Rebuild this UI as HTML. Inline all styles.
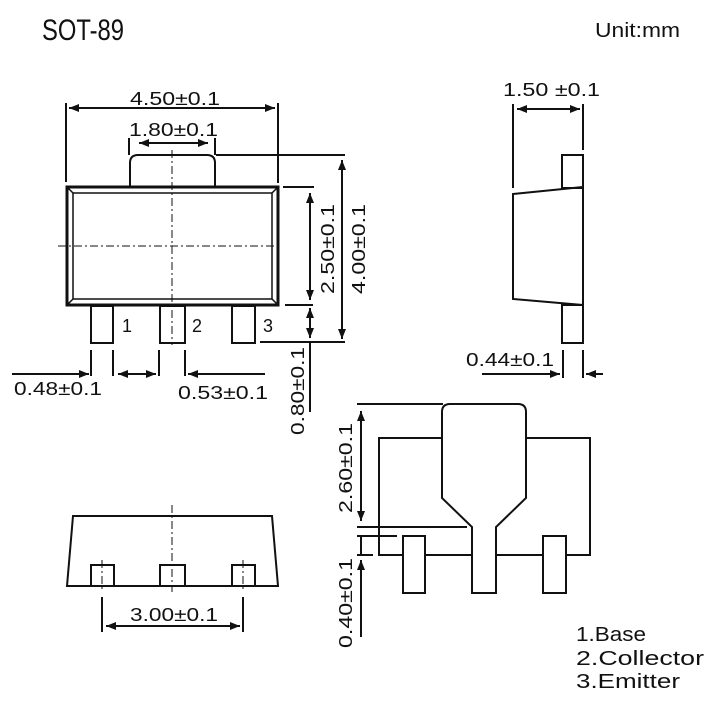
<!DOCTYPE html>
<html><head><meta charset="utf-8"><style>
html,body{margin:0;padding:0;background:#fff;width:712px;height:704px;overflow:hidden}
svg{display:block}
text{font-family:"Liberation Sans","DejaVu Sans",sans-serif;fill:#111}
</style></head><body>
<svg width="712" height="704" viewBox="0 0 712 704" xmlns="http://www.w3.org/2000/svg">
<defs>
<marker id="a" viewBox="0 0 10 8" refX="10" refY="4" markerWidth="10" markerHeight="8" markerUnits="userSpaceOnUse" orient="auto-start-reverse"><path d="M0,0L10,4L0,8z" fill="#111"/></marker>
</defs>
<g stroke="#111" fill="none" stroke-width="2">
<rect x="67" y="187" width="211" height="118" stroke-width="3"/>
<rect x="73" y="193" width="199" height="106" stroke-width="1.5"/>
<path d="M67,187L73,193M278,187L272,193M67,305L73,299M278,305L272,299" stroke-width="1.5"/>
<path d="M130,187V163Q130,155 138,155H207Q215,155 215,163V187"/>
<rect x="91" y="306" width="22" height="37"/>
<rect x="160" y="306" width="25" height="37"/>
<rect x="232" y="306" width="23" height="37"/>
<path d="M172,150V345M58,246H282" stroke-width="1" stroke-dasharray="8,3,2,3"/>
<path d="M66,103V182M278,103V183"/>
<path d="M69,108H275" marker-start="url(#a)" marker-end="url(#a)"/>
<path d="M129,138V155M215,138V155"/>
<path d="M139,143H208" marker-start="url(#a)" marker-end="url(#a)"/>
<path d="M216,155H345M283,187H314M285,305H313M260,342H345M310,342V412"/>
<path d="M342,160V339" marker-start="url(#a)" marker-end="url(#a)"/>
<path d="M310,193V300" marker-start="url(#a)" marker-end="url(#a)"/>
<path d="M310,308V338" marker-start="url(#a)" marker-end="url(#a)"/>
<path d="M91,350V376M113,350V376M159,350V376M185,350V376"/>
<path d="M12,374H89" marker-end="url(#a)"/>
<path d="M118,374H156" marker-start="url(#a)" marker-end="url(#a)"/>
<path d="M265,374H188" marker-end="url(#a)"/>
<rect x="562" y="155" width="21" height="33"/>
<path d="M513,194L583,187V305L513,299Z"/>
<rect x="562" y="305" width="21" height="38"/>
<path d="M513,104V188M583,104V150"/>
<path d="M517,109H580" marker-start="url(#a)" marker-end="url(#a)"/>
<path d="M563,350V378M583,350V378"/>
<path d="M482,374H560" marker-end="url(#a)"/>
<path d="M603,374H586" marker-end="url(#a)"/>
<path d="M73,516H272L278,586H67Z"/>
<path d="M91,586V565H114V586M160,586V565H185V586M232,586V565H255V586"/>
<path d="M172,505V592M102,560V590M243,560V590" stroke-width="1" stroke-dasharray="8,3,2,3"/>
<path d="M102,597V632M243,597V632"/>
<path d="M106,626H240" marker-start="url(#a)" marker-end="url(#a)"/>
<path d="M442,438H379V555H403M425,555H472M496,555H543M566,555H590V438H526"/>
<path d="M442,498V412Q442,404 450,404H518Q526,404 526,412V498L496,527V593H472V527Z"/>
<rect x="403" y="536" width="22" height="57"/>
<rect x="543" y="536" width="23" height="57"/>
<path d="M357,404H443M357,527H467M357,536H397M357,555H373M361,536V555"/>
<path d="M361,411V521" marker-start="url(#a)" marker-end="url(#a)"/>
<path d="M361,637V560" marker-end="url(#a)"/>
</g>
<text x="42" y="40" font-size="30" textLength="82" lengthAdjust="spacingAndGlyphs">SOT-89</text>
<text x="595" y="37" font-size="20" textLength="85" lengthAdjust="spacingAndGlyphs">Unit:mm</text>
<g font-size="18">
<text x="130" y="105" textLength="90" lengthAdjust="spacingAndGlyphs">4.50±0.1</text>
<text x="129" y="136" textLength="89" lengthAdjust="spacingAndGlyphs">1.80±0.1</text>
<text x="122" y="332">1</text>
<text x="192" y="332">2</text>
<text x="263" y="332">3</text>
<text x="14" y="395" textLength="88" lengthAdjust="spacingAndGlyphs">0.48±0.1</text>
<text x="178" y="399" textLength="90" lengthAdjust="spacingAndGlyphs">0.53±0.1</text>
<text x="503" y="96" textLength="97" lengthAdjust="spacingAndGlyphs">1.50 ±0.1</text>
<text x="466" y="366" textLength="88" lengthAdjust="spacingAndGlyphs">0.44±0.1</text>
<text x="130" y="621" textLength="88" lengthAdjust="spacingAndGlyphs">3.00±0.1</text>
<text transform="translate(334,249) rotate(-90)" text-anchor="middle" textLength="90" lengthAdjust="spacingAndGlyphs">2.50±0.1</text>
<text transform="translate(365,249) rotate(-90)" text-anchor="middle" textLength="90" lengthAdjust="spacingAndGlyphs">4.00±0.1</text>
<text transform="translate(304,391) rotate(-90)" text-anchor="middle" textLength="88" lengthAdjust="spacingAndGlyphs">0.80±0.1</text>
<text transform="translate(352,468) rotate(-90)" text-anchor="middle" textLength="90" lengthAdjust="spacingAndGlyphs">2.60±0.1</text>
<text transform="translate(352,603) rotate(-90)" text-anchor="middle" textLength="90" lengthAdjust="spacingAndGlyphs">0.40±0.1</text>
</g>
<g font-size="20">
<text x="576" y="641" textLength="70" lengthAdjust="spacingAndGlyphs">1.Base</text>
<text x="576" y="665" textLength="128" lengthAdjust="spacingAndGlyphs">2.Collector</text>
<text x="576" y="688" textLength="104" lengthAdjust="spacingAndGlyphs">3.Emitter</text>
</g>
</svg>
</body></html>
